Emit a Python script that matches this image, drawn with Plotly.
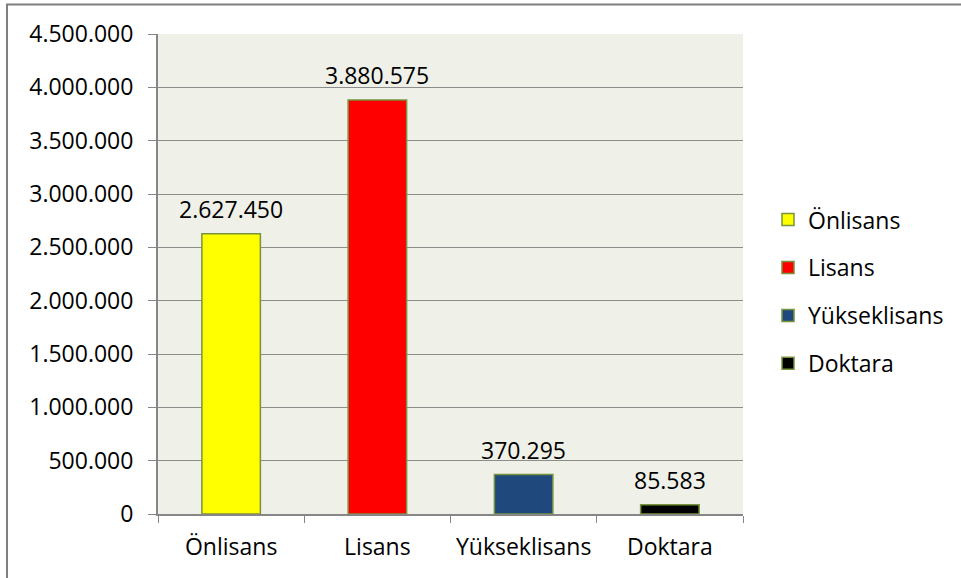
import plotly.graph_objects as go

categories = ["Önlisans", "Lisans", "Yükseklisans", "Doktara"]
values = [2627450, 3880575, 370295, 85583]
label_texts = ["2.627.450", "3.880.575", "370.295", "85.583"]
colors = ["#FFFF00", "#FF0000", "#1F497D", "#000000"]
y_ticks = [0, 500000, 1000000, 1500000, 2000000, 2500000, 3000000, 3500000, 4000000, 4500000]

FONT = "Open Sans"
FS = 23
fig = go.Figure()
for i, (c, v, col) in enumerate(zip(categories, values, colors)):
    fig.add_trace(go.Bar(
        x=[c], y=[v], name=c, width=0.4,
        marker=dict(color=col, line=dict(color="#77933C", width=1.5)),
        legendgroup=f"g{i}", hoverinfo="skip",
    ))
    fig.add_annotation(x=c, y=v, text=label_texts[i], showarrow=False,
                       yanchor="bottom", yshift=7,
                       font=dict(family=FONT, size=FS, color="#000000"))

fig.update_layout(
    width=961, height=578,
    margin=dict(l=158, r=218, t=34, b=64, autoexpand=False),
    paper_bgcolor="white", plot_bgcolor="#EFF1E9",
    barmode="overlay", separators=",.",
    font=dict(family=FONT, size=FS, color="#000000"),
    showlegend=True,
    legend=dict(x=1 + (768 - 743) / 585, y=0.658, xanchor="left", yanchor="top",
                traceorder="grouped", tracegroupgap=15,
                font=dict(family=FONT, size=FS, color="#000000"),
                bgcolor="rgba(0,0,0,0)"),
    xaxis=dict(type="category", tickson="boundaries", ticks="outside", ticklen=7,
               tickcolor="#868686", showline=True, linecolor="#868686", linewidth=1.5,
               showgrid=False, tickfont=dict(family=FONT, size=FS), range=[-0.5, 3.5],
               automargin=False, ticklabelstandoff=12),
    yaxis=dict(range=[0, 4500000], tickvals=y_ticks, tickformat=",d",
               ticks="outside", ticklen=8, tickcolor="#868686",
               showline=True, linecolor="#868686", linewidth=2,
               showgrid=True, gridcolor="#8C8C8C", gridwidth=1,
               zeroline=False, tickfont=dict(family=FONT, size=FS),
               automargin=False, ticklabelstandoff=10),
    shapes=[dict(type="rect", xref="paper", yref="paper",
                 x0=(7 - 158) / 585, x1=1.5, y0=-0.5, y1=1 + 29.5 / 480,
                 line=dict(color="#7F7F7F", width=2), layer="below")],
)

fig.write_html("out.html", config={"displayModeBar": False},
               post_script="document.body.style.margin='0';document.body.style.overflow='hidden';")
